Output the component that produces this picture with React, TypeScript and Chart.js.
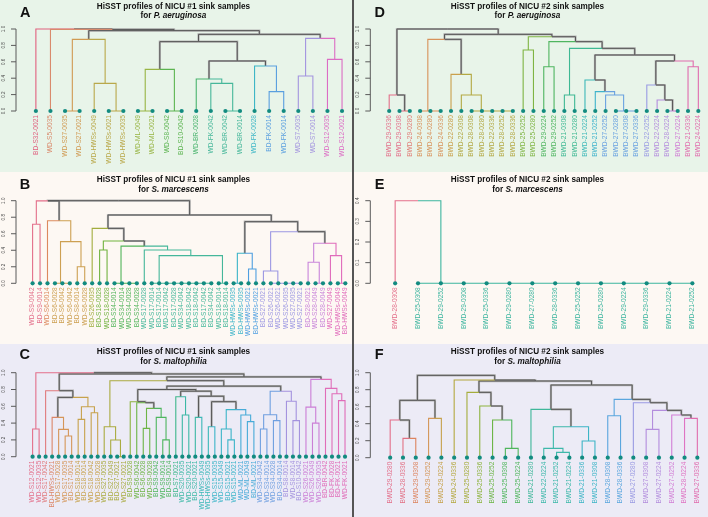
import { useEffect, useRef } from "react";
import { Chart, registerables } from "chart.js";

Chart.register(...registerables);

// Merge rows follow the hclust convention: negative = leaf (1-based), positive = earlier merge row.
type Merge = [number, number, number];

// ---------- A: P. aeruginosa, NICU #1 ----------
const aLeaves = [
  "BD-S32-0021", "WD-S5-0035", "WD-S27-0035", "WD-S27-0021", "WD-HWSs-0049", "WD-HWSs-0021",
  "WD-HWSs-0035", "WD-ML-0049", "WD-ML-0021", "WD-S8-0042", "BD-S10-0042", "WD-BR-0028",
  "WD-FK-0042", "WD-BR-0042", "WD-BR-0014", "WD-FK-0028", "BD-FK-0014", "WD-FK-0014",
  "WD-S7-0035", "WD-S7-0014", "WD-S12-0035", "WD-S12-0021",
];
const aColors = [
  "#e0607f", "#d98a6c", "#d09a52", "#d09a52", "#b9a84a", "#b9a84a", "#b9a84a", "#98b545",
  "#98b545", "#5cb450", "#5cb450", "#4ab46e", "#46b79a", "#46b79a", "#46b79a", "#3db6c6",
  "#5a9fdf", "#5a9fdf", "#a394df", "#a394df", "#dc6cc4", "#dc6cc4",
];
const aMerges: Merge[] = [
  [-3, -4, 0], [-6, -7, 0], [-5, 2, 0.337], [1, 3, 0.874], [-8, -9, 0], [-10, -11, 0],
  [5, 6, 0.508], [-14, -15, 0], [-13, 8, 0.337], [-12, 9, 0.39], [-17, -18, 0.236],
  [-16, 11, 0.549], [10, 12, 0.61], [7, 13, 0.846], [-19, -20, 0.427], [-21, -22, 0.63],
  [15, 16, 0.886], [14, 17, 0.935], [4, 18, 0.98], [-2, 19, 0.995], [-1, 20, 1.0],
];

// ---------- B: S. marcescens, NICU #1 ----------
const bLeaves = [
  "WD-S9-0042", "BD-S9-0014", "WD-S6-0014", "BD-S6-0028", "BD-S6-0042", "WD-S6-0042",
  "BD-S8-0014", "WD-S6-0028", "BD-S26-0035", "BD-S18-0028", "WD-S18-0028", "BD-S34-0014",
  "WD-S34-0014", "WD-S34-0028", "BD-S34-0028", "WD-S17-0028", "WD-S17-0014", "BD-S17-0014",
  "WD-S17-0042", "BD-S17-0028", "WD-S34-0042", "WD-S18-0042", "BD-S18-0042", "BD-S17-0042",
  "BD-S34-0042", "WD-S18-0014", "BD-S18-0014", "WD-HWSs-0035", "BD-HWSs-0035", "WD-HWSs-0021",
  "BD-HWSs-0021", "BD-S27-0021", "BD-S26-0021", "WD-S26-0021", "WD-S26-0035", "WD-S27-0035",
  "WD-S27-0021", "BD-S28-0021", "WD-S28-0049", "BD-S28-0049", "WD-S27-0049", "WD-HWSs-0049",
  "BD-HWSs-0049",
];
const bColors = [
  "#e36f8a", "#e36f8a", "#dc8a5e", "#cda052", "#cda052", "#cda052", "#cda052", "#cda052",
  "#a2ad3e", "#72b340", "#72b340", "#52b45a", "#52b45a", "#52b45a", "#52b45a", "#45b79a",
  "#45b79a", "#45b79a", "#45b79a", "#45b79a", "#45b79a", "#45b79a", "#45b79a", "#45b79a",
  "#45b79a", "#45b79a", "#45b79a", "#3cb4c8", "#3cb4c8", "#4f9fe0", "#4f9fe0", "#9c97e2",
  "#9c97e2", "#9c97e2", "#9c97e2", "#9c97e2", "#9c97e2", "#c985da", "#c985da", "#c985da",
  "#e06bbb", "#e06bbb", "#e06bbb",
];
const bMerges: Merge[] = [
  [-1, -2, 0.714], [-5, -6, 0], [-4, 2, 0], [-7, -8, 0.2], [3, 4, 0.504], [-3, 5, 0.758],
  [1, 6, 0.998], [-10, -11, 0.403], [-14, -15, 0], [-13, 9, 0], [-12, 10, 0],
  [-24, -25, 0], [-23, 12, 0], [-22, 13, 0], [-21, 14, 0], [-20, 15, 0], [-19, 16, 0],
  [-18, 17, 0], [-17, 18, 0], [-26, -27, 0], [19, 20, 0.335], [-16, 21, 0.403],
  [11, 22, 0.45], [8, 23, 0.512], [-9, 24, 0.665], [-28, -29, 0], [-30, -31, 0.173],
  [26, 27, 0.363], [-36, -37, 0], [-35, 29, 0], [-34, 30, 0], [-33, 31, 0], [-32, 32, 0.149],
  [-39, -40, 0], [-38, 34, 0.254], [-42, -43, 0], [-41, 36, 0.335], [35, 37, 0.484],
  [33, 38, 0.625], [28, 39, 0.746], [25, 40, 0.827], [7, 41, 1.0],
];

// ---------- C: S. maltophilia, NICU #1 ----------
const cLeaves = [
  "WD-S12-0021", "WD-S12-0035", "WD-S17-0042", "BD-HWSs-0021", "WD-S17-0028", "WD-S17-0035",
  "BD-S17-0014", "WD-S18-0014", "BD-S18-0014", "WD-S18-0042", "WD-S18-0028", "WD-S27-0035",
  "BD-S27-0049", "BD-S27-0021", "WD-S27-0021", "BD-S9-0028", "WD-S6-0042", "BD-S6-0028",
  "WD-S9-0028", "BD-S9-0042", "WD-S9-0014", "BD-S9-0014", "BD-S7-0021", "WD-S20-0035",
  "WD-S20-0021", "BD-S20-0021", "WD-HWSs-0049", "WD-HWSs-0035", "WD-S15-0035", "WD-S15-0049",
  "BD-S15-0021", "WD-S15-0021", "WD-ML-0021", "WD-ML-0049", "BD-ML-0021", "WD-S34-0042",
  "WD-S34-0014", "WD-S34-0028", "BD-S34-0014", "BD-S8-0014", "WD-S8-0014", "BD-S10-0042",
  "WD-S26-0021", "WD-S26-0049", "WD-S26-0035", "BD-BR-0042", "BD-FK-0028", "BD-FK-0021",
  "WD-FK-0021",
];
const cColors = [
  "#e36f8a", "#e36f8a", "#e07a7c", "#dc8669", "#d59659", "#d59659", "#d59659", "#c7a24c",
  "#c7a24c", "#c7a24c", "#c7a24c", "#aaab40", "#aaab40", "#aaab40", "#aaab40", "#8db33f",
  "#6db546", "#6db546", "#6db546", "#4eb65f", "#4eb65f", "#4eb65f", "#3fb88c", "#3cb8a5",
  "#3cb8a5", "#3cb8a5", "#3bb8b8", "#3bb8b8", "#3cb5c8", "#3cb5c8", "#3cb5c8", "#3cb5c8",
  "#48abd8", "#48abd8", "#48abd8", "#6f9fe0", "#6f9fe0", "#6f9fe0", "#6f9fe0", "#a493de",
  "#a493de", "#a493de", "#cb7fd6", "#cb7fd6", "#cb7fd6", "#e06db9", "#e06db9", "#e06db9",
  "#e06db9",
];
const cMerges: Merge[] = [
  [-1, -2, 0.33], [-6, -7, 0.246], [-5, 2, 0.325], [-4, 3, 0.468], [-8, -9, 0.444],
  [-10, -11, 0.524], [5, 6, 0.595], [4, 7, 0.706], [-3, 8, 0.786], [-14, -15, 0],
  [-13, 10, 0.198], [-12, 11, 0.357], [-18, -19, 0.337], [-21, -22, 0.2], [-20, 14, 0.468],
  [13, 15, 0.575], [-17, 16, 0.643], [-16, 17, 0.655], [-24, -25, 0.496], [-23, 19, 0.714],
  [-26, -27, 0.468], [-28, -29, 0.357], [-31, -32, 0.2], [-30, 23, 0.33], [-34, -35, 0.417],
  [-33, 25, 0.496], [24, 26, 0.56], [22, 27, 0.655], [21, 28, 0.72], [20, 29, 0.78],
  [18, 30, 0.8], [-36, -37, 0.33], [-38, -39, 0.43], [32, 33, 0.5], [-41, -42, 0.43],
  [-40, 35, 0.66], [34, 36, 0.78], [31, 37, 0.84], [12, 38, 0.905], [-44, -45, 0.4],
  [-43, 40, 0.59], [-48, -49, 0.667], [-47, 42, 0.75], [-46, 43, 0.813], [41, 44, 0.92],
  [39, 45, 0.95], [9, 46, 0.985], [1, 47, 1.0],
];

// ---------- D: P. aeruginosa, NICU #2 ----------
const dLeaves = [
  "BWD-29-0336", "BWD-29-0308", "BWD-29-0280", "BWD-24-0308", "BWD-24-0280", "BWD-24-0336",
  "BWD-22-0280", "BWD-22-0308", "BWD-28-0308", "BWD-28-0280", "BWD-22-0336", "BWD-28-0252",
  "BWD-28-0336", "BWD-25-0252", "BWD-25-0280", "BWD-29-0224", "BWD-29-0252", "BWD-21-0308",
  "BWD-21-0280", "BWD-21-0224", "BWD-21-0252", "BWD-27-0252", "BWD-27-0280", "BWD-27-0308",
  "BWD-27-0336", "BWD-22-0252", "BWD-22-0224", "BWD-28-0224", "BWD-27-0224", "BWD-21-0336",
  "BWD-24-0224",
];
const dColors = [
  "#e36f8a", "#e36f8a", "#e07d76", "#d7925a", "#d7925a", "#d7925a", "#caa04c", "#b3a843",
  "#b3a843", "#b3a843", "#b3a843", "#b3a843", "#b3a843", "#7fb443", "#7fb443", "#4fb560",
  "#4fb560", "#3eb893", "#3eb893", "#3db8b8", "#3fb3cb", "#6aa2e0", "#6aa2e0", "#6aa2e0",
  "#6aa2e0", "#9a9be3", "#b38cdd", "#b38cdd", "#d07dd4", "#e06cae", "#e06cae",
];
const dMerges: Merge[] = [
  [-2, -3, 0], [-1, 1, 0.195], [-5, -6, 0], [-4, 3, 0], [-12, -13, 0], [-11, 5, 0],
  [-10, 6, 0], [-9, 7, 0], [-8, 8, 0.195], [-7, 9, 0.447], [4, 10, 0.874], [-14, -15, 0.744],
  [-16, -17, 0.54], [-18, -19, 0.195], [-24, -25, 0], [-23, 15, 0], [-22, 16, 0.195],
  [-21, 17, 0.236], [-20, 18, 0.378], [-28, -29, 0], [-27, 20, 0.134], [-26, 21, 0.317],
  [-30, -31, 0.54], [22, 23, 0.61], [19, 24, 0.683], [14, 25, 0.764], [13, 26, 0.846],
  [12, 27, 0.906], [11, 28, 0.935], [2, 29, 1.0],
];

// ---------- E: S. marcescens, NICU #2 ----------
const eLeaves = [
  "BWD-28-0308", "BWD-25-0308", "BWD-29-0252", "BWD-29-0308", "BWD-25-0336", "BWD-29-0280",
  "BWD-27-0280", "BWD-28-0336", "BWD-25-0252", "BWD-25-0280", "BWD-29-0224", "BWD-29-0336",
  "BWD-21-0224", "BWD-21-0252",
];
const eColors = [
  "#e36f8a", "#3db59f", "#3db59f", "#3db59f", "#3db59f", "#3db59f", "#3db59f", "#3db59f",
  "#3db59f", "#3db59f", "#3db59f", "#3db59f", "#3db59f", "#3db59f",
];
const eMerges: Merge[] = [
  [-13, -14, 0], [-12, 1, 0], [-11, 2, 0], [-10, 3, 0], [-9, 4, 0], [-8, 5, 0], [-7, 6, 0],
  [-6, 7, 0], [-5, 8, 0], [-4, 9, 0], [-3, 10, 0], [-2, 11, 0], [-1, 12, 0.4],
];

// ---------- F: S. maltophilia, NICU #2 ----------
const fLeaves = [
  "BWD-29-0280", "BWD-28-0336", "BWD-29-0308", "BWD-29-0252", "BWD-29-0224", "BWD-24-0336",
  "BWD-25-0280", "BWD-25-0336", "BWD-25-0252", "BWD-25-0308", "BWD-25-0224", "BWD-21-0280",
  "BWD-22-0224", "BWD-21-0252", "BWD-21-0224", "BWD-21-0336", "BWD-21-0308", "BWD-28-0308",
  "BWD-28-0336", "BWD-27-0280", "BWD-27-0308", "BWD-27-0224", "BWD-27-0252", "BWD-28-0224",
  "BWD-27-0336",
];
const fColors = [
  "#e36f8a", "#e27185", "#dd845f", "#d4975a", "#c6a24d", "#b4a83f", "#a5ad3c", "#8db33f",
  "#6cb546", "#4fb65c", "#4fb65c", "#3fb79a", "#3db8aa", "#3db8aa", "#3db8aa", "#3db5c6",
  "#3db5c6", "#5aa6de", "#5aa6de", "#9a9be3", "#b38ddd", "#b38ddd", "#d27fd6", "#df74c3",
  "#e06cae",
];
const fMerges: Merge[] = [
  [-2, -3, 0.227], [-1, 1, 0.443], [-4, -5, 0.463], [2, 3, 0.675], [-10, -11, 0.11],
  [-9, 5, 0.443], [-8, 6, 0.608], [-7, 7, 0.769], [-14, -15, 0.063], [-13, 9, 0.11],
  [-16, -17, 0.196], [10, 11, 0.365], [-12, 12, 0.569], [-18, -19, 0.494], [-21, -22, 0.333],
  [-24, -25, 0.463], [-23, 16, 0.502], [15, 17, 0.557], [-20, 18, 0.647], [14, 19, 0.686],
  [13, 20, 0.855], [8, 21, 0.902], [-6, 22, 0.914], [4, 23, 0.969],
];

const heightTicks = [0, 0.2, 0.4, 0.6, 0.8, 1.0];
const smallHeightTicks = [0, 0.1, 0.2, 0.3, 0.4];

const GRAY = "#555555";
const GRAY_HALO = "#b4b4b4";
const DOT = "#128b80";
const AXIS = "#5a5a5a";
const FONT = "'Liberation Sans', Arial, Helvetica, sans-serif";

interface Box { left: number; top: number; width: number; height: number }
interface Geom { axisX: number; topY: number; baseY: number; firstX: number; lastX: number }
interface PanelSpec {
  letter: string; nicu: string; species: string; bg: string;
  box: Box; geom: Geom; titleBase: number; letterX: number; letterCap: number;
  leaves: string[]; colors: string[]; merges: Merge[]; yMax: number; yTicks: number[];
}

const GREEN_BG = "#e8f4e9";
const CREAM_BG = "#fdf8f3";
const LILAC_BG = "#ecebf6";

const panels: PanelSpec[] = [
  {
    letter: "A", nicu: "1", species: "P. aeruginosa", bg: GREEN_BG,
    box: { left: 0, top: 0, width: 352, height: 172 },
    geom: { axisX: 16, topY: 29, baseY: 111, firstX: 36, lastX: 344 },
    titleBase: 9.3, letterX: 20, letterCap: 7.3,
    leaves: aLeaves, colors: aColors, merges: aMerges, yMax: 1, yTicks: heightTicks,
  },
  {
    letter: "B", nicu: "1", species: "S. marcescens", bg: CREAM_BG,
    box: { left: 0, top: 172, width: 352, height: 172 },
    geom: { axisX: 16, topY: 200.7, baseY: 283.3, firstX: 32.7, lastX: 347.3 },
    titleBase: 182.7, letterX: 19.7, letterCap: 179,
    leaves: bLeaves, colors: bColors, merges: bMerges, yMax: 1, yTicks: heightTicks,
  },
  {
    letter: "C", nicu: "1", species: "S. maltophilia", bg: LILAC_BG,
    box: { left: 0, top: 344, width: 352, height: 173 },
    geom: { axisX: 16, topY: 372.7, baseY: 456.7, firstX: 32.7, lastX: 347 },
    titleBase: 355, letterX: 19.5, letterCap: 349,
    leaves: cLeaves, colors: cColors, merges: cMerges, yMax: 1, yTicks: heightTicks,
  },
  {
    letter: "D", nicu: "2", species: "P. aeruginosa", bg: GREEN_BG,
    box: { left: 354, top: 0, width: 354, height: 172 },
    geom: { axisX: 370.3, topY: 29, baseY: 111, firstX: 389.3, lastX: 700.3 },
    titleBase: 9.3, letterX: 374.5, letterCap: 6.7,
    leaves: dLeaves, colors: dColors, merges: dMerges, yMax: 1, yTicks: heightTicks,
  },
  {
    letter: "E", nicu: "2", species: "S. marcescens", bg: CREAM_BG,
    box: { left: 354, top: 172, width: 354, height: 172 },
    geom: { axisX: 370.3, topY: 200.7, baseY: 283.3, firstX: 395.3, lastX: 694.3 },
    titleBase: 182.7, letterX: 374.7, letterCap: 179,
    leaves: eLeaves, colors: eColors, merges: eMerges, yMax: 0.4, yTicks: smallHeightTicks,
  },
  {
    letter: "F", nicu: "2", species: "S. maltophilia", bg: LILAC_BG,
    box: { left: 354, top: 344, width: 354, height: 173 },
    geom: { axisX: 370.3, topY: 372.7, baseY: 457.7, firstX: 390.3, lastX: 699.3 },
    titleBase: 355, letterX: 374.7, letterCap: 349,
    leaves: fLeaves, colors: fColors, merges: fMerges, yMax: 1, yTicks: heightTicks,
  },
];

type Pt = { x: number; y: number | null };

// Each edge runs from the parent's height horizontally to the child, then down to the child's height.
// An edge takes the child's colour when every leaf under the child shares one colour.
function buildEdges(colors: string[], merges: Merge[]): Map<string, Pt[]> {
  const nx: number[] = [];
  const nh: number[] = [];
  const nc: (string | null)[] = [];
  const byColor = new Map<string, Pt[]>();
  const node = (r: number) =>
    r < 0 ? { x: -r, h: 0, c: colors[-r - 1] as string | null } : { x: nx[r - 1], h: nh[r - 1], c: nc[r - 1] };
  merges.forEach(([a, b, h]) => {
    const A = node(a);
    const B = node(b);
    const px = (A.x + B.x) / 2;
    for (const ch of [A, B]) {
      const col = ch.c ?? GRAY;
      if (!byColor.has(col)) byColor.set(col, []);
      byColor.get(col)!.push({ x: px, y: h }, { x: ch.x, y: h }, { x: ch.x, y: ch.h }, { x: ch.x, y: null });
    }
    nx.push(px);
    nh.push(h);
    nc.push(A.c && A.c === B.c ? A.c : null);
  });
  return byColor;
}

function edgeDataset(pts: Pt[], color: string, width: number, order: number) {
  return {
    type: "line",
    data: pts,
    borderColor: color,
    borderWidth: width,
    // a dash pattern without gaps keeps the stroke solid while every vertex is walked in order
    borderDash: [10000, 0],
    pointRadius: 0,
    tension: 0,
    spanGaps: false,
    order,
    clip: false,
  };
}

function Dendrogram({ spec }: { spec: PanelSpec }) {
  const ref = useRef<HTMLCanvasElement>(null);

  useEffect(() => {
    const canvas = ref.current;
    if (!canvas) return;
    const { box, geom, leaves, colors } = spec;
    const n = leaves.length;
    const unit = (geom.lastX - geom.firstX) / (n - 1);
    const rightX = Math.min(geom.lastX + unit * 0.6, box.left + box.width - 2);
    const xMin = 1 - (geom.firstX - geom.axisX) / unit;
    const xMax = n + (rightX - geom.lastX) / unit;

    const edges = buildEdges(colors, spec.merges);
    const datasets: any[] = [
      {
        type: "scatter",
        data: leaves.map((_, i) => ({ x: i + 1, y: 0 })),
        showLine: false,
        pointRadius: 2.1,
        pointBackgroundColor: DOT,
        pointBorderWidth: 0,
        order: 0,
        clip: false,
      },
    ];
    edges.forEach((pts, col) => {
      if (col === GRAY) {
        datasets.push(edgeDataset(pts, GRAY_HALO, 2.2, 3));
        datasets.push(edgeDataset(pts, GRAY, 1, 2));
      } else {
        datasets.push(edgeDataset(pts, col, 1.1, 1));
      }
    });

    const axesPlugin = {
      id: "dendroAxes",
      afterDraw(chart: any) {
        const { ctx, chartArea } = chart;
        const xs = chart.scales.x;
        const ys = chart.scales.y;
        const left = chartArea.left;
        const y0 = ys.getPixelForValue(0);
        const yTop = ys.getPixelForValue(spec.yMax);
        ctx.save();
        ctx.strokeStyle = AXIS;
        ctx.lineWidth = 1;
        ctx.beginPath();
        ctx.moveTo(left, y0);
        ctx.lineTo(left, yTop);
        spec.yTicks.forEach((t) => {
          const py = ys.getPixelForValue(t);
          ctx.moveTo(left, py);
          ctx.lineTo(left - 5, py);
        });
        ctx.stroke();

        ctx.fillStyle = "#4a4a4a";
        ctx.font = `4.6px ${FONT}`;
        ctx.textAlign = "center";
        ctx.textBaseline = "middle";
        spec.yTicks.forEach((t) => {
          const py = ys.getPixelForValue(t);
          ctx.save();
          ctx.translate(left - 12.5, py);
          ctx.rotate(-Math.PI / 2);
          ctx.fillText(t.toFixed(1), 0, 0);
          ctx.restore();
        });

        ctx.font = `6.6px ${FONT}`;
        ctx.textAlign = "right";
        ctx.textBaseline = "middle";
        leaves.forEach((lab, i) => {
          const px = xs.getPixelForValue(i + 1);
          ctx.save();
          ctx.translate(px, y0 + 4);
          ctx.rotate(-Math.PI / 2);
          ctx.fillStyle = colors[i];
          ctx.fillText(lab, 0, 0);
          ctx.restore();
        });
        ctx.restore();
      },
    };

    const chart = new Chart(canvas, {
      type: "line",
      data: { datasets },
      options: {
        responsive: false,
        maintainAspectRatio: false,
        animation: false,
        events: [],
        layout: {
          padding: {
            left: geom.axisX - box.left,
            top: geom.topY - box.top,
            bottom: box.top + box.height - geom.baseY,
            right: box.left + box.width - rightX,
          },
        },
        plugins: { legend: { display: false }, tooltip: { enabled: false } },
        scales: {
          x: { type: "linear", display: false, min: xMin, max: xMax },
          y: { type: "linear", display: false, min: 0, max: spec.yMax },
        },
      },
      plugins: [axesPlugin],
    });
    return () => chart.destroy();
  }, [spec]);

  const { box } = spec;
  const cx = box.left + 173.5;
  return (
    <>
      <div style={{ position: "absolute", left: box.left, top: box.top, width: box.width, height: box.height, background: spec.bg }} />
      <canvas
        ref={ref}
        width={box.width}
        height={box.height}
        style={{ position: "absolute", left: box.left, top: box.top, width: box.width, height: box.height }}
      />
      <div
        style={{
          position: "absolute", left: spec.letterX, top: spec.letterCap - 1.9,
          font: `bold 14.5px ${FONT}`, lineHeight: "14.5px", color: "#111",
        }}
      >
        {spec.letter}
      </div>
      <div
        style={{
          position: "absolute", left: cx - 160, width: 320, top: spec.titleBase - 7.54,
          textAlign: "center", font: `bold 8.2px ${FONT}`, lineHeight: "9.4px",
          color: "#111", whiteSpace: "nowrap",
        }}
      >
        HiSST profiles of NICU #{spec.nicu} sink samples
        <br />
        for <i>{spec.species}</i>
      </div>
    </>
  );
}

export default function App() {
  return (
    <div style={{ position: "absolute", left: 0, top: 0, width: 708, height: 517, overflow: "hidden", background: "#ffffff" }}>
      {panels.map((p) => (
        <Dendrogram key={p.letter} spec={p} />
      ))}
      <div style={{ position: "absolute", left: 352, top: 0, width: 2, height: 517, background: "#555" }} />
    </div>
  );
}
